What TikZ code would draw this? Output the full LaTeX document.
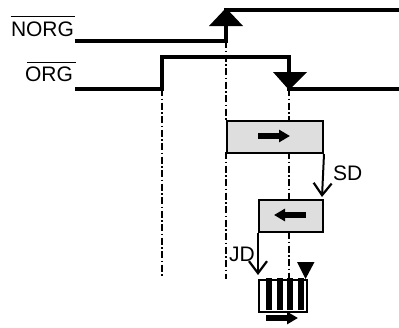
\documentclass[tikz,border=0pt]{standalone}
\usepackage{fontspec}
\setmainfont{Liberation Sans}
\usetikzlibrary{arrows.meta}
\tikzset{
  sig/.style={line width=3.5pt,line join=miter},
  guide/.style={line width=1.8pt,dash pattern=on 7pt off 2.5pt on 1.5pt off 2.5pt},
  phasebox/.style={draw=black,line width=2pt,fill=black!13,minimum width=96pt,minimum height=32pt,inner sep=0pt,anchor=north west},
  flow/.style={line width=2pt,-{Straight Barb[length=12pt,width=18pt,line width=2.2pt]}},
  dirarrow/.style={line width=5.5pt,-{Triangle[length=11pt,width=12pt]}},
  lab/.style={font=\fontsize{21pt}{24pt}\selectfont,inner sep=0pt},
  overbar/.style={line width=.9pt},
  tri/.style={fill=black,draw=none}
}
\begin{document}
\begin{tikzpicture}[x=1pt,y=-1pt]
\useasboundingbox (0,0) rectangle (399,327);
\coordinate (n0) at (75,41);
\coordinate (n1) at (226,41);
\coordinate (n2) at (226,10);
\coordinate (n3) at (399,10);
\coordinate (o0) at (75,89);
\coordinate (o1) at (162,89);
\coordinate (o2) at (162,57);
\coordinate (o3) at (289,57);
\coordinate (o4) at (289,89);
\coordinate (o5) at (399,89);
% guides
\draw[guide] (162,89) -- (162,278);
\draw[guide] (226,41) -- (226,120);
\draw[guide] (226,152) -- (226,279);
\draw[guide] (289,89) -- (289,120);
\draw[guide] (289,152) -- (289,199);
\draw[guide] (289,232) -- (289,278);
% signals
\draw[sig] (n0) -- (n1) -- (n2) -- (n3);
\draw[sig] (o0) -- (o1) -- (o2) -- (o3) -- (o4) -- (o5);
\fill[tri] (226,8) -- (243,26) -- (209,26) -- cycle;
\fill[tri] (289,90) -- (307,72) -- (273,72) -- cycle;
% labels
\node[lab,anchor=base] (nl) at (42.5,36) {NORG};
\draw[overbar] (10.5,16) -- (75,16);
\node[lab,anchor=base] (ol) at (49,81) {ORG};
\draw[overbar] (27,62) -- (76,62);
% boxes
\node[phasebox] (b1) at (226,120) {};
\node[phasebox,minimum width=64pt,minimum height=32pt] (b2) at (258,199) {};
\draw[dirarrow] (258,136) -- (290,136);
\draw[dirarrow] (306,215) -- (274,215);
\coordinate (sdend) at (322,197);
\draw[flow] (b1.south east) -- (sdend);
\node[lab,anchor=base west] (sd) at (333,180) {SD};
\coordinate (jdend) at (258,275);
\draw[flow] (b2.south west) -- (jdend);
\node[lab,anchor=base west] (jd) at (229,261) {JD};
% stripes
\node[draw=black,line width=2.2pt,fill=white,minimum width=48pt,minimum height=32pt,inner sep=0pt,anchor=north west] (b3) at (257.5,278.5) {};
\foreach \x in {268.5,279.5,290,301} \fill (\x-3,278) rectangle (\x+3,310);
\fill[tri] (305.5,279) -- (314.5,262) -- (297,262) -- cycle;
\draw[dirarrow] (266,318) -- (298,318);
\end{tikzpicture}
\end{document}
